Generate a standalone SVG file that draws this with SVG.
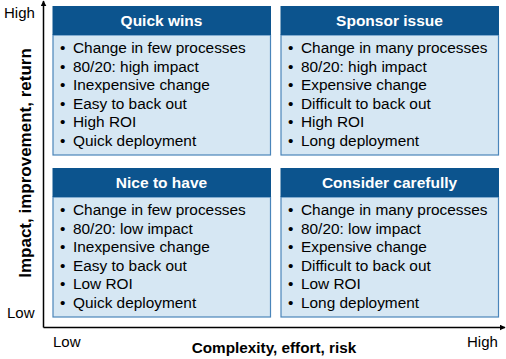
<svg xmlns="http://www.w3.org/2000/svg" width="506" height="359" viewBox="0 0 506 359">
<defs>
<style>
.hdr{fill:#0C548E;}
.body{fill:#D6E7F3;stroke:#4A85BA;stroke-width:1.2;}
.ttl{font-family:"Liberation Sans",Arial,sans-serif;font-size:15.5px;font-weight:bold;fill:#fff;text-anchor:middle;}
.txt{font-family:"Liberation Sans",Arial,sans-serif;font-size:15.4px;fill:#000;}
.ax{font-family:"Liberation Sans",Arial,sans-serif;font-size:15px;fill:#000;}
.axb{font-family:"Liberation Sans",Arial,sans-serif;font-size:15.3px;font-weight:bold;fill:#000;text-anchor:middle;}
.axis{stroke:#000;stroke-width:1.5;fill:none;}
</style>
<marker id="arr" viewBox="0 0 10 10" refX="9" refY="5" markerWidth="6" markerHeight="6" markerUnits="userSpaceOnUse" orient="auto">
<path d="M0,0 L10,5 L0,10 z" fill="#000"/>
</marker>
</defs>
<g id="axes">
<path class="axis" d="M43.5,327.5 L43.5,1" marker-end="url(#arr)"/>
<path class="axis" d="M43.5,327.5 L505,327.5" marker-end="url(#arr)"/>
<text class="ax" x="4" y="18">High</text>
<text class="ax" x="7" y="318">Low</text>
<text class="ax" x="53" y="347">Low</text>
<text class="ax" x="467" y="347">High</text>
<text class="axb" x="274" y="353">Complexity, effort, risk</text>
<text class="axb" style="font-size:17px" transform="translate(31,163) rotate(-90)">Impact, improvement, return</text>
</g>
<g id="quick-wins">
<rect class="body" x="53" y="35" width="217.5" height="120"/>
<rect class="hdr" x="52.5" y="6" width="218.5" height="29"/>
<text class="ttl" x="161.5" y="26">Quick wins</text>
<text class="txt"><tspan x="60" y="53">•</tspan><tspan x="73">Change in few processes</tspan><tspan x="60" y="71.5">•</tspan><tspan x="73">80/20: high impact</tspan><tspan x="60" y="90">•</tspan><tspan x="73">Inexpensive change</tspan><tspan x="60" y="108.5">•</tspan><tspan x="73">Easy to back out</tspan><tspan x="60" y="127">•</tspan><tspan x="73">High ROI</tspan><tspan x="60" y="145.5">•</tspan><tspan x="73">Quick deployment</tspan></text>
</g>
<g id="sponsor-issue">
<rect class="body" x="281" y="35" width="217.5" height="120"/>
<rect class="hdr" x="280.5" y="6" width="218.5" height="29"/>
<text class="ttl" x="389.5" y="26">Sponsor issue</text>
<text class="txt"><tspan x="288" y="53">•</tspan><tspan x="301">Change in many processes</tspan><tspan x="288" y="71.5">•</tspan><tspan x="301">80/20: high impact</tspan><tspan x="288" y="90">•</tspan><tspan x="301">Expensive change</tspan><tspan x="288" y="108.5">•</tspan><tspan x="301">Difficult to back out</tspan><tspan x="288" y="127">•</tspan><tspan x="301">High ROI</tspan><tspan x="288" y="145.5">•</tspan><tspan x="301">Long deployment</tspan></text>
</g>
<g id="nice-to-have">
<rect class="body" x="53" y="197" width="217.5" height="120"/>
<rect class="hdr" x="52.5" y="168" width="218.5" height="29"/>
<text class="ttl" x="161.5" y="188">Nice to have</text>
<text class="txt"><tspan x="60" y="215">•</tspan><tspan x="73">Change in few processes</tspan><tspan x="60" y="233.5">•</tspan><tspan x="73">80/20: low impact</tspan><tspan x="60" y="252">•</tspan><tspan x="73">Inexpensive change</tspan><tspan x="60" y="270.5">•</tspan><tspan x="73">Easy to back out</tspan><tspan x="60" y="289">•</tspan><tspan x="73">Low ROI</tspan><tspan x="60" y="307.5">•</tspan><tspan x="73">Quick deployment</tspan></text>
</g>
<g id="consider-carefully">
<rect class="body" x="281" y="197" width="217.5" height="120"/>
<rect class="hdr" x="280.5" y="168" width="218.5" height="29"/>
<text class="ttl" x="389.5" y="188">Consider carefully</text>
<text class="txt"><tspan x="288" y="215">•</tspan><tspan x="301">Change in many processes</tspan><tspan x="288" y="233.5">•</tspan><tspan x="301">80/20: low impact</tspan><tspan x="288" y="252">•</tspan><tspan x="301">Expensive change</tspan><tspan x="288" y="270.5">•</tspan><tspan x="301">Difficult to back out</tspan><tspan x="288" y="289">•</tspan><tspan x="301">Low ROI</tspan><tspan x="288" y="307.5">•</tspan><tspan x="301">Long deployment</tspan></text>
</g>
</svg>
